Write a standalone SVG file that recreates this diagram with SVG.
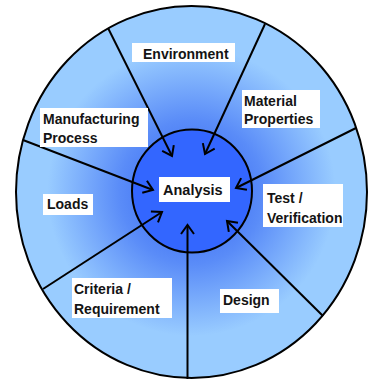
<svg xmlns="http://www.w3.org/2000/svg" width="370" height="379" viewBox="0 0 370 379">
<defs>
<radialGradient id="g" cx="191.5" cy="192" r="180" gradientUnits="userSpaceOnUse">
<stop offset="0" stop-color="#3060f0"/>
<stop offset="0.4" stop-color="#5a8cf8"/>
<stop offset="0.8" stop-color="#99ccff"/>
<stop offset="1" stop-color="#99ccff"/>
</radialGradient>
<marker id="ah" markerUnits="userSpaceOnUse" markerWidth="16" markerHeight="16" refX="12" refY="8" orient="auto">
<path d="M3,1.5 L12,8 L3,14.5" fill="none" stroke="#000" stroke-width="2"/>
</marker>
<style>
.lb{fill:#fff}
.t{font-family:"Liberation Sans",Arial,sans-serif;font-weight:bold;font-size:14px;fill:#141414}
.c{stroke:#000;stroke-width:2;fill:none;marker-end:url(#ah)}
</style>
</defs>
<g id="outer"><ellipse cx="191.5" cy="192" rx="175.5" ry="186" fill="url(#g)" stroke="#000" stroke-width="2"/></g>
<g id="core"><ellipse cx="192" cy="191" rx="60" ry="61.5" fill="#3366ff" stroke="#000" stroke-width="2"/></g>
<g id="connectors">
<line class="c" x1="108" y1="28" x2="172" y2="156"/>
<line class="c" x1="265" y1="24" x2="205" y2="154"/>
<line class="c" x1="356" y1="128" x2="236" y2="188"/>
<line class="c" x1="23" y1="140" x2="153" y2="190"/>
<line class="c" x1="43" y1="289" x2="162" y2="212"/>
<line class="c" x1="187.5" y1="379" x2="187.5" y2="225"/>
<line class="c" x1="323" y1="316" x2="227" y2="221"/>
</g>
<g id="analysis"><rect class="lb" x="159" y="177" width="71" height="25"/><text class="t" x="163" y="195" style="font-size:14.5px">Analysis</text></g>
<g id="environment"><rect class="lb" x="132" y="43" width="103" height="19"/><text class="t" x="143" y="59">Environment</text></g>
<g id="material"><rect class="lb" x="242" y="90" width="78" height="38"/><text class="t" x="244" y="106">Material</text><text class="t" x="244" y="124">Properties</text></g>
<g id="manufacturing"><rect class="lb" x="40" y="108" width="108" height="39"/><text class="t" x="43" y="124">Manufacturing</text><text class="t" x="43" y="143">Process</text></g>
<g id="test"><rect class="lb" x="263" y="184" width="80" height="43"/><text class="t" x="267" y="203">Test /</text><text class="t" x="267" y="223">Verification</text></g>
<g id="loads"><rect class="lb" x="43" y="194" width="50" height="21"/><text class="t" x="47" y="209">Loads</text></g>
<g id="criteria"><rect class="lb" x="72" y="278" width="100" height="40"/><text class="t" x="74" y="294">Criteria /</text><text class="t" x="74" y="314">Requirement</text></g>
<g id="design"><rect class="lb" x="220" y="289" width="59" height="24"/><text class="t" x="223" y="305">Design</text></g>
</svg>
